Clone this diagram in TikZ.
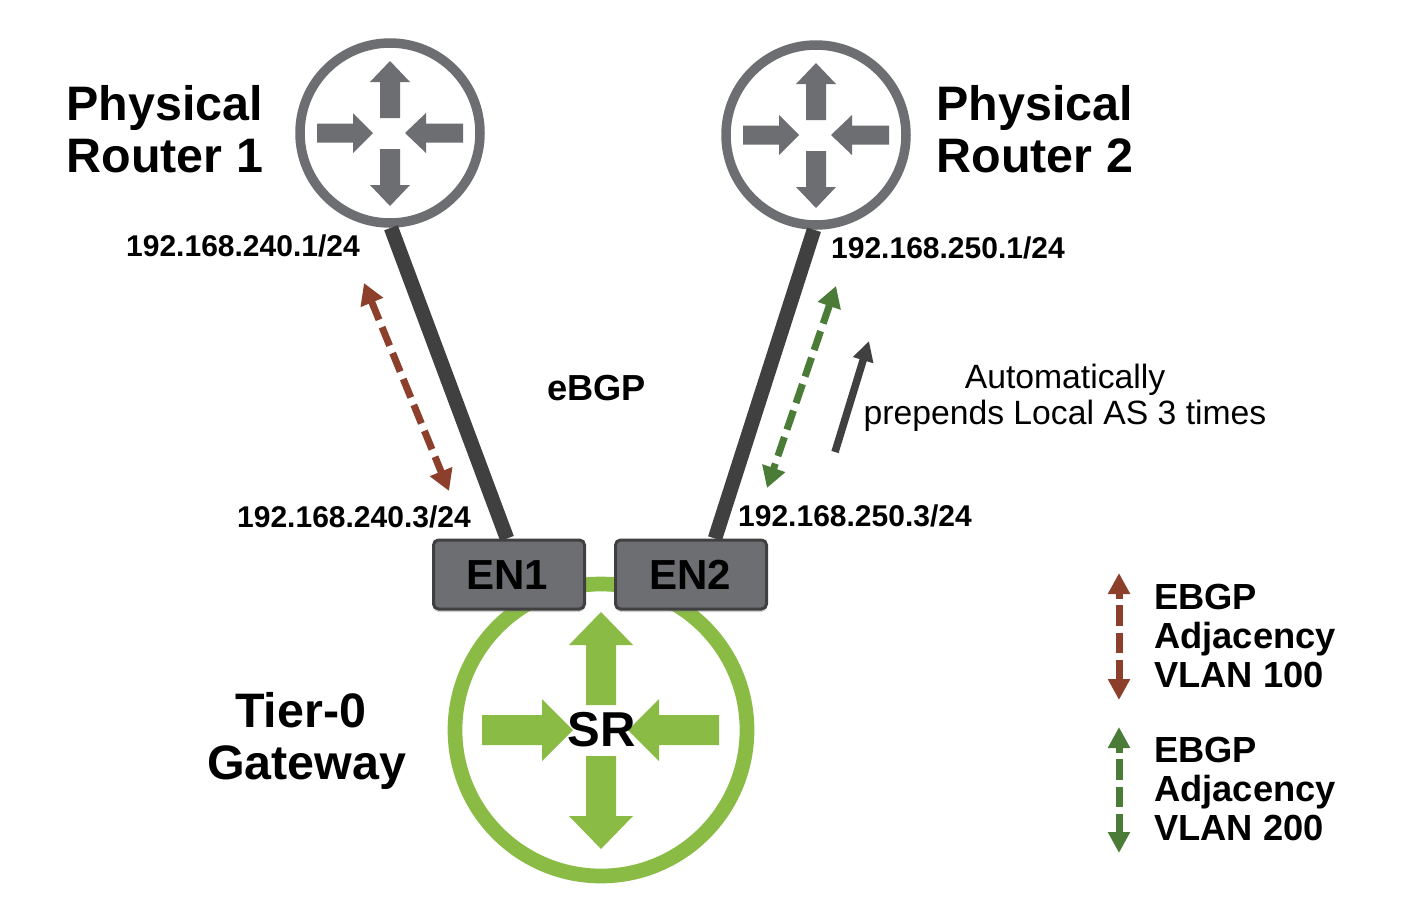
\documentclass[tikz,border=0pt]{standalone}
\usepackage{fontspec}
\setmainfont{Liberation Sans}
\usetikzlibrary{arrows.meta,shadows,calc}
\definecolor{routergray}{HTML}{6D6E71}
\definecolor{linkdark}{HTML}{404040}
\definecolor{srgreen}{HTML}{8ABB45}
\definecolor{adjbrown}{HTML}{8C402C}
\definecolor{adjgreen}{HTML}{4A7C37}
\tikzset{
  routerring/.style={circle,draw=routergray,line width=9.5pt,fill=white,minimum size=180pt,inner sep=0pt},
  srring/.style={circle,draw=srgreen,line width=14.7pt,fill=white,minimum size=292pt,inner sep=0pt,
    drop shadow={opacity=.25,shadow xshift=0pt,shadow yshift=-3pt}},
  enbox/.style={rectangle,rounded corners=5pt,draw=linkdark,line width=3pt,fill=routergray,
    minimum width=151pt,minimum height=69pt,inner sep=0pt,
    text=black,
    drop shadow={opacity=.35,shadow xshift=0pt,shadow yshift=-3pt}},
  enlabel/.style={font=\bfseries\fontsize{42}{42}\selectfont,text=black,inner sep=0pt},
  link/.style={draw=linkdark,line width=14.5pt},
  adjarrow/.style={line width=7pt,dash pattern=on 20pt off 8pt,{Triangle[width=23pt,length=21pt]}-{Triangle[width=23pt,length=21pt]}},
  legarrow/.style={line width=7pt,dash pattern=on 20.7pt off 6.6pt,dash phase=14.7pt,{Triangle[width=21pt,length=21pt]}-{Triangle[width=21pt,length=21pt]}},
  bigtxt/.style={font=\bfseries\fontsize{48.4}{52}\selectfont,align=left,anchor=north west,inner sep=0pt,text=black},
  iptxt/.style={font=\bfseries\fontsize{30}{30}\selectfont,anchor=base west,inner sep=0pt,text=black},
  legtxt/.style={font=\bfseries\fontsize{36.3}{39}\selectfont,align=left,anchor=north west,inner sep=0pt,text=black},
  notetxt/.style={font=\fontsize{33.7}{36}\selectfont,align=center,inner sep=0pt,text=black},
}
\newcommand{\routerarrows}[1]{%
  \begin{scope}[shift={(#1)}]
    \fill[routergray] (0,-72)--(20,-51)--(10,-51)--(10,-15)--(-10,-15)--(-10,-51)--(-20,-51)--cycle;
    \fill[routergray] (0,73)--(20,52)--(10,52)--(10,16)--(-10,16)--(-10,52)--(-20,52)--cycle;
    \fill[routergray] (-17,0)--(-37,-20)--(-37,-9.5)--(-73,-9.5)--(-73,9.5)--(-37,9.5)--(-37,20)--cycle;
    \fill[routergray] (15,0)--(36,-20)--(36,-9.5)--(73,-9.5)--(73,9.5)--(36,9.5)--(36,20)--cycle;
  \end{scope}}
\begin{document}
\begin{tikzpicture}[x=1pt,y=-1pt]
  \useasboundingbox (0,0) rectangle (1406,906);
  \fill[white] (0,0) rectangle (1406,906);

  % routers
  \node[routerring] (r1) at (390,133) {};
  \node[routerring] (r2) at (816,135) {};
  \routerarrows{390,133}
  \routerarrows{816,135}

  % Tier-0 gateway
  \node[srring] (sr) at (601,730) {};
  \fill[srgreen] (601,612)--(633,645)--(616,645)--(616,705)--(586,705)--(586,645)--(569,645)--cycle;
  \fill[srgreen] (601,849)--(633,816)--(616,816)--(616,756)--(586,756)--(586,816)--(569,816)--cycle;
  \fill[srgreen] (573,730)--(542,699)--(542,715)--(482,715)--(482,745)--(542,745)--(542,761)--cycle;
  \fill[srgreen] (628,730)--(659,699)--(659,715)--(719,715)--(719,745)--(659,745)--(659,761)--cycle;
  \node[font=\bfseries\fontsize{49}{49}\selectfont,text=black,inner sep=0pt] (srlabel) at (601.5,730) {SR};

  % edge nodes
  \node[enbox] (en1) at (509,574.5) {};
  \node[enbox] (en2) at (691,574.5) {};
  \node[enlabel] (en1label) at (507,575.5) {EN1};
  \node[enlabel] (en2label) at (690,574.5) {EN2};

  % links
  \draw[link] ([xshift=1pt]r1.south) -- ([xshift=-2pt]en1.north);
  \draw[link] ([xshift=-2pt]r2.south) -- ([xshift=24pt]en2.north);

  % adjacency arrows
  \coordinate (a1) at (364,283);
  \coordinate (a2) at (449,491);
  \draw[adjbrown,adjarrow] (a1) -- (a2);
  \coordinate (b1) at (836,286);
  \coordinate (b2) at (767,488);
  \draw[adjgreen,adjarrow] (b1) -- (b2);
  \coordinate (c1) at (835,452);
  \coordinate (c2) at (869,341);
  \draw[linkdark,line width=7.5pt,-{Triangle[width=20pt,length=20pt]}] (c1) -- (c2);

  % labels
  \node[bigtxt] (lr1) at (66.5,85.5) {Physical\\Router 1};
  \node[bigtxt] (lr2) at (936.5,85.5) {Physical\\Router 2};
  \node[bigtxt,align=center] (lt0) at (207,692.5) {Tier-0\hspace*{12pt}\\Gateway};
  \node[iptxt] (ip1) at (126,256) {192.168.240.1/24};
  \node[iptxt] (ip2) at (831,258) {192.168.250.1/24};
  \node[iptxt] (ip3) at (237,527) {192.168.240.3/24};
  \node[iptxt] (ip4) at (738,526) {192.168.250.3/24};
  \node[font=\bfseries\fontsize{36.2}{36}\selectfont,anchor=base west,inner sep=0pt,text=black] (ebgp) at (547,400) {eBGP};
  \node[notetxt] (note) at (1065,397.5) {Automatically\\prepends Local AS 3 times};

  % legend
  \coordinate (l1) at (1119,573);
  \coordinate (l2) at (1119,700);
  \draw[adjbrown,legarrow] (l1) -- (l2);
  \coordinate (l3) at (1119,727);
  \coordinate (l4) at (1119,853);
  \draw[adjgreen,legarrow] (l3) -- (l4);
  \node[legtxt] (leg1) at (1154,584) {EBGP\\Adjacency\\VLAN 100};
  \node[legtxt] (leg2) at (1154,737) {EBGP\\Adjacency\\VLAN 200};
\end{tikzpicture}
\end{document}
